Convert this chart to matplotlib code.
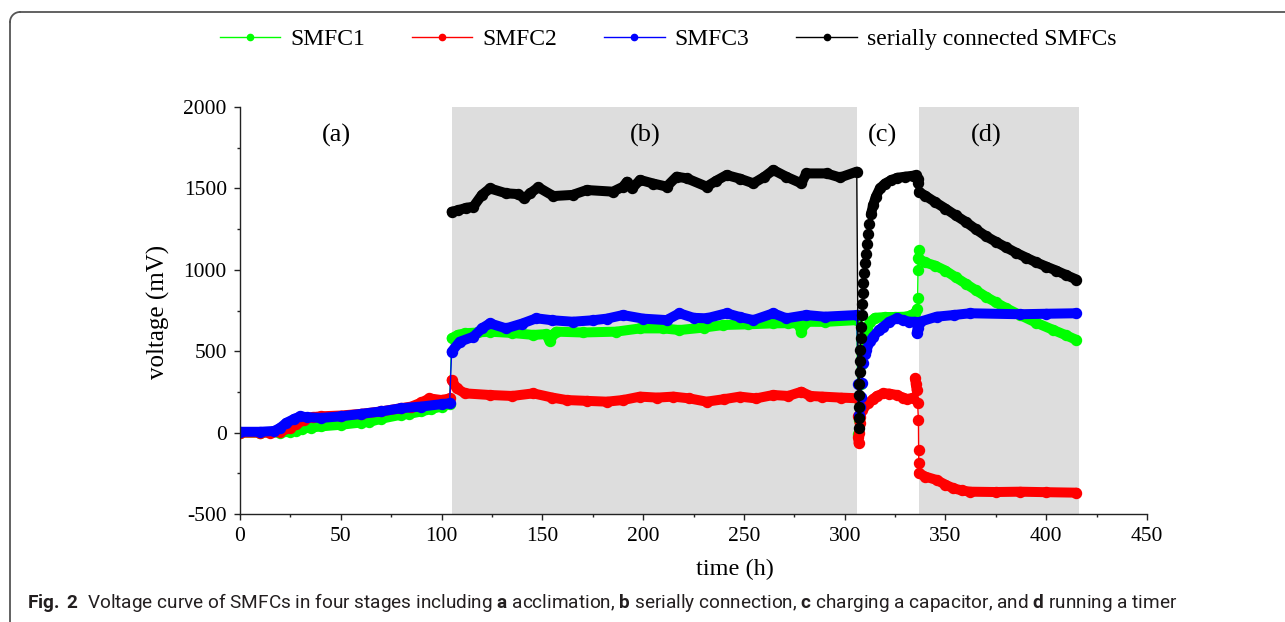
import numpy as np
import matplotlib
matplotlib.use("Agg")
import matplotlib.pyplot as plt
from matplotlib.lines import Line2D

# ---------------- data ----------------
smfc1_t = [0, 10, 20, 25, 28, 31, 35, 40, 50, 60, 64, 70, 80, 84, 90, 95, 100, 104,
           105, 108, 111.5, 118, 124, 135, 145.5, 152, 153.6, 155, 156.9, 170, 186.6, 198.5, 210,
           218, 230, 239.8, 252, 264.6, 272, 277, 278.5, 280, 281, 290, 306,
           306.8, 307.3, 307.8, 308.3, 308.8, 309.3, 310, 311, 312.5, 315, 320, 325, 330, 333,
           335, 336.0, 336.2, 336.4, 336.6, 336.8, 337.1, 340, 345, 350, 355, 360, 365, 370,
           375, 380, 387, 395, 403.6, 410, 415]
smfc1_v = [0, 0, 0, 5, 12, 25, 30, 38, 48, 62, 65, 85, 110, 115, 130, 145, 160, 175,
           579, 600, 610, 615, 620, 612, 600, 605, 560, 600, 620, 615, 620, 640, 640,
           630, 645, 661, 665, 671, 672, 670, 620, 670, 681, 680, 691,
           -10, 80, 180, 300, 420, 520, 590, 640, 680, 705, 710, 710, 712, 720,
           735, 760, 825, 999, 1071, 1122, 1065, 1045, 1025, 995, 955, 915, 875, 835,
           800, 765, 722, 675, 630, 597, 569]

smfc2_t = [0, 10, 15, 20, 25, 28, 32, 36, 40, 50, 60, 70, 80, 85, 90, 94, 100, 104,
           105, 107.5, 111.6, 124, 135, 145.5, 155, 162, 172, 182, 190, 198.5, 207, 215,
           223, 231.5, 240, 248, 256, 264.6, 272, 278.5, 283, 289, 298, 306,
           306.6, 306.8, 306.9, 307.1, 307.4, 307.6, 308.4, 309.5, 311.7, 314, 316, 319.2,
           322, 325.8, 329, 331, 334, 334.9, 335.3, 335.7, 336.2, 336.6, 336.7, 336.8,
           336.9, 340, 345.6, 350, 353.9, 358, 362.2, 375, 387, 400, 415]
smfc2_v = [0, 0, 0, 5, 30, 50, 80, 95, 100, 105, 115, 130, 150, 160, 185, 210, 200, 210,
           323, 272, 241, 231, 225, 241, 215, 200, 195, 190, 200, 221, 215, 221,
           210, 190, 205, 221, 210, 231, 225, 251, 225, 221, 215, 211,
           100, -30, -66, 0, 60, 98, 139, 165, 180, 205, 225, 241,
           240, 231, 215, 205, 215, 333, 300, 262, 180, 77, -107, -189,
           -250, -270, -291, -320, -342, -355, -363, -365, -363, -366, -369]

smfc3_t = [0, 10, 17, 20, 23, 27, 30, 33, 40, 50, 60, 70, 80, 90, 100, 104,
           105, 109, 115.8, 120, 124, 132, 140, 147, 155, 165, 175, 182, 190, 200, 211.7,
           218, 225, 231.5, 241.4, 248, 254.7, 264.6, 271, 281, 290, 306,
           306.8, 306.9, 307.5, 308, 308.6, 309.3, 310, 310.8, 312.5, 314.2, 317, 319.2,
           322, 325.8, 329, 332, 334.9, 335.7, 336.2, 337.4, 345.6, 354, 362.2, 387, 400, 415]
smfc3_v = [5, 5, 10, 30, 60, 85, 100, 95, 90, 100, 115, 130, 150, 160, 175, 180,
           497, 558, 589, 640, 671, 640, 670, 702, 690, 681, 690, 700, 722, 700, 691,
           733, 705, 702, 733, 710, 691, 733, 702, 722, 712, 722,
           300, 108, 160, 220, 303, 426, 480, 507, 560, 589, 630, 651,
           680, 702, 690, 681, 681, 610, 640, 681, 712, 722, 733, 727, 730, 733]

series_t = [105, 108, 112, 115.8, 120, 124, 132, 138, 141, 144, 148, 155.5, 165, 172,
            185, 190, 192, 194.5, 198.5, 205, 211.7, 216.6, 221.6, 231.5, 236, 241.4, 248,
            254.7, 260, 264.6, 271, 278.5, 281, 291, 297.7, 306,
            306.9, 307.0, 307.1, 307.2, 307.3, 307.4, 307.5, 307.7, 307.9, 308.1, 308.4,
            308.7, 309.0, 309.3, 309.6, 310.0, 310.4, 310.9, 311.5, 312.2, 313.0, 314.2,
            315.5, 317.5, 320, 323, 326, 330, 334, 335.5, 336.3, 336.6, 336.9,
            340, 345, 350, 355, 360, 365, 370, 375, 380, 385, 390, 395, 400, 405, 410, 415]
series_v = [1357, 1365, 1380, 1388, 1460, 1500, 1470, 1465, 1439, 1470, 1507, 1453, 1460, 1490,
            1480, 1510, 1541, 1500, 1552, 1530, 1511, 1572, 1562, 1511, 1545, 1582, 1560,
            1531, 1570, 1613, 1572, 1531, 1592, 1592, 1567, 1603,
            26, 90, 159, 230, 300, 370, 440, 510, 580, 650, 720,
            790, 860, 920, 980, 1040, 1100, 1160, 1220, 1280, 1340, 1400,
            1450, 1500, 1530, 1550, 1565, 1572, 1578, 1580, 1560, 1535, 1478,
            1455, 1415, 1376, 1335, 1295, 1250, 1207, 1172, 1138, 1105, 1075, 1046, 1020,
            995, 967, 940]

series_names = ["SMFC1", "SMFC2", "SMFC3", "serially connected SMFCs"]
series_colors = ["#00ff00", "#ff0000", "#0000ff", "#000000"]

stage_spans = [(105, 306), (337, 416.5)]
stage_labels = ["(a)", "(b)", "(c)", "(d)"]
stage_label_x = [47.6, 201, 319, 370]
stage_label_y = 1828

x_ticks = [0, 50, 100, 150, 200, 250, 300, 350, 400, 450]
y_ticks = [-500, 0, 500, 1000, 1500, 2000]

caption_text = (r"$\mathbf{Fig.}$ $\mathbf{2}$  Voltage curve of SMFCs in four stages including "
                r"$\mathbf{a}$ acclimation, $\mathbf{b}$ serially connection, "
                r"$\mathbf{c}$ charging a capacitor, and $\mathbf{d}$ running a timer")

# ---------------- figure ----------------
W, H = 1285, 622
plt.rcParams["axes.unicode_minus"] = False
serif = "Liberation Serif"
plt.rcParams["font.family"] = serif
plt.rcParams["mathtext.fontset"] = "custom"
plt.rcParams["mathtext.rm"] = "Roboto"
plt.rcParams["mathtext.bf"] = "Roboto:bold"
plt.rcParams["mathtext.it"] = "Roboto:italic"
fig = plt.figure(figsize=(W / 100, H / 100), dpi=100)

ax = fig.add_axes([240 / W, (H - 514) / H, 907 / W, 407 / H])
ax.set_xlim(0, 450)
ax.set_ylim(-500, 2000)
for s0, s1 in stage_spans:
    ax.axvspan(s0, s1, color="#dddddd", lw=0, zorder=0)

ms = 7.2
for t, v, c in zip([smfc1_t, smfc2_t, smfc3_t, series_t],
                   [smfc1_v, smfc2_v, smfc3_v, series_v], series_colors):
    t = np.asarray(t, float)
    v = np.asarray(v, float)
    ax.plot(t, v, color=c, lw=1.0, zorder=2)
    dt = np.diff(t)
    dv = np.abs(np.diff(v))
    jump = (dv > 40) & (dv / np.maximum(dt, 1e-6) > 60)
    tt, vv = [t[0]], [v[0]]
    for i in range(1, len(t)):
        if jump[i - 1]:
            tt.append(np.nan); vv.append(np.nan)
        tt.append(t[i]); vv.append(v[i])
    ax.plot(tt, vv, color=c, lw=ms, solid_capstyle="round", solid_joinstyle="round", zorder=2)
    ax.plot(t, v, ls="none", marker="o", ms=ms, color=c, mec=c, zorder=2)

for lab, lx in zip(stage_labels, stage_label_x):
    ax.text(lx, stage_label_y, lab, ha="center", va="center", fontsize=19, family=serif)

for side in ["top", "right"]:
    ax.spines[side].set_visible(False)
for side in ["left", "bottom"]:
    ax.spines[side].set_color("#222222")
    ax.spines[side].set_linewidth(1.0)
ax.set_xticks(x_ticks)
ax.set_yticks(y_ticks)
ax.set_xticks(np.array(x_ticks[:-1]) + 25, minor=True)
ax.set_yticks(np.array(y_ticks[:-1]) + 250, minor=True)
ax.tick_params(which="major", direction="out", length=4.5, width=1, labelsize=15.5, color="#222222", pad=5)
ax.tick_params(which="minor", direction="out", length=2.5, width=1, color="#222222")
ax.set_xlabel("time (h)", fontsize=17.5)
ax.set_ylabel("voltage (mV)", fontsize=18)
ax.xaxis.set_label_coords((735 - 240) / 907, -(569 - 514) / 407)
ax.yaxis.set_label_coords(-(240 - 158) / 907, (514 - 312) / 407)
ax.xaxis.label.set_va("center")
ax.yaxis.label.set_va("center")

handles = [Line2D([0], [0], color=c, lw=1.0, marker="o", ms=4.5) for c in series_colors]
fig.legend(handles, series_names, loc="center", bbox_to_anchor=(668 / W, 1 - 39 / H), ncol=4,
           frameon=False, handlelength=2.55, handletextpad=0.42, columnspacing=2.0,
           prop={"family": serif, "size": 17})

# ---------------- frame (rounded corner, top & left only) ----------------
r = 10
x0, y0 = 10, H - 12
frame_color = "#555555"
fig.add_artist(Line2D([x0 / W, x0 / W], [(y0 - r) / H, 0], transform=fig.transFigure,
                      color=frame_color, lw=1.3))
fig.add_artist(Line2D([(x0 + r) / W, 1], [y0 / H, y0 / H], transform=fig.transFigure,
                      color=frame_color, lw=1.3))
ang = np.linspace(np.pi / 2, np.pi, 20)
fig.add_artist(Line2D((x0 + r + r * np.cos(ang)) / W, (y0 - r + r * np.sin(ang)) / H,
                      transform=fig.transFigure, color=frame_color, lw=1.3))

# ---------------- caption ----------------
renderer = fig.canvas.get_renderer()
cap_x0, cap_x1 = 27, 1174
cap = fig.text(cap_x0 / W, 1 - 608 / H, caption_text, fontsize=12, family="Roboto",
               va="baseline", ha="left", color="#231f20")
w = cap.get_window_extent(renderer).width
cap.set_fontsize(12 * (cap_x1 - cap_x0) / w)

fig.savefig("out.png", dpi=100)
